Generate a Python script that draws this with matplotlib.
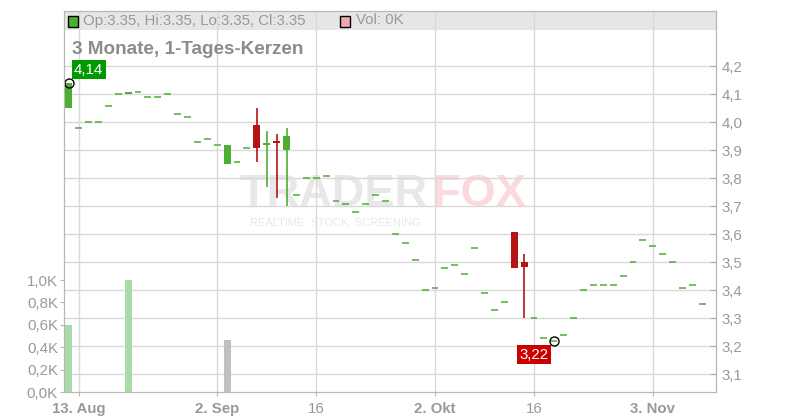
import matplotlib
matplotlib.use("Agg")
import matplotlib.pyplot as plt
from matplotlib.patches import Rectangle

plt.rcParams['font.family'] = ['Liberation Sans', 'DejaVu Sans']

# daily candles, one per trading day (index 0 = 12. Aug)
opens = [4.05, 3.98, 4.00, 4.00, 4.06, 4.10, 4.10, 4.11, 4.09, 4.09,
         4.10, 4.03, 4.02, 3.93, 3.94, 3.92, 3.85, 3.86, 3.91, 3.99,
         3.92, 3.935, 3.90, 3.74, 3.80, 3.80, 3.81, 3.72, 3.71, 3.68,
         3.71, 3.74, 3.72, 3.60, 3.57, 3.51, 3.40, 3.41, 3.48, 3.49,
         3.46, 3.55, 3.39, 3.33, 3.36, 3.61, 3.50, 3.30, 3.23, 3.22,
         3.24, 3.30, 3.40, 3.42, 3.42, 3.42, 3.45, 3.50, 3.58, 3.56,
         3.53, 3.50, 3.41, 3.42, 3.35]
highs = [4.14, 3.98, 4.00, 4.00, 4.06, 4.10, 4.11, 4.11, 4.09, 4.09,
         4.10, 4.03, 4.02, 3.93, 3.94, 3.92, 3.92, 3.86, 3.91, 4.05,
         3.97, 3.96, 3.98, 3.74, 3.80, 3.80, 3.81, 3.72, 3.71, 3.68,
         3.71, 3.74, 3.72, 3.60, 3.57, 3.51, 3.40, 3.41, 3.48, 3.49,
         3.46, 3.55, 3.39, 3.33, 3.36, 3.61, 3.53, 3.30, 3.23, 3.22,
         3.24, 3.30, 3.40, 3.42, 3.42, 3.42, 3.45, 3.50, 3.58, 3.56,
         3.53, 3.50, 3.41, 3.42, 3.35]
lows = [4.05, 3.98, 4.00, 4.00, 4.06, 4.10, 4.10, 4.11, 4.09, 4.09,
        4.10, 4.03, 4.02, 3.93, 3.94, 3.92, 3.85, 3.86, 3.91, 3.86,
        3.77, 3.73, 3.70, 3.74, 3.80, 3.80, 3.81, 3.72, 3.71, 3.68,
        3.71, 3.74, 3.72, 3.60, 3.57, 3.51, 3.40, 3.41, 3.48, 3.49,
        3.46, 3.55, 3.39, 3.33, 3.36, 3.48, 3.30, 3.30, 3.23, 3.22,
        3.24, 3.30, 3.40, 3.42, 3.42, 3.42, 3.45, 3.50, 3.58, 3.56,
        3.53, 3.50, 3.41, 3.42, 3.35]
closes = [4.14, 3.98, 4.00, 4.00, 4.06, 4.10, 4.11, 4.11, 4.09, 4.09,
          4.10, 4.03, 4.02, 3.93, 3.94, 3.92, 3.92, 3.86, 3.91, 3.91,
          3.927, 3.925, 3.95, 3.74, 3.80, 3.80, 3.81, 3.72, 3.71, 3.68,
          3.71, 3.74, 3.72, 3.60, 3.57, 3.51, 3.40, 3.41, 3.48, 3.49,
          3.46, 3.55, 3.39, 3.33, 3.36, 3.48, 3.485, 3.30, 3.23, 3.22,
          3.24, 3.30, 3.40, 3.42, 3.42, 3.42, 3.45, 3.50, 3.58, 3.56,
          3.53, 3.50, 3.41, 3.42, 3.35]

# volume in K, only three days traded
vol_days = [0, 6, 16]
vol_values = [0.60, 1.00, 0.46]
vol_colors = ['#a8dba8', '#a8dba8', '#c0c0c0']

xtick_pos = [1, 15, 25, 37, 47, 59]
xtick_labels = ['13. Aug', '2. Sep', '16', '2. Okt', '16', '3. Nov']
xtick_bold = [True, True, False, True, False, True]

price_ticks = [3.1, 3.2, 3.3, 3.4, 3.5, 3.6, 3.7, 3.8, 3.9, 4.0, 4.1, 4.2]
price_labels = ['3,1', '3,2', '3,3', '3,4', '3,5', '3,6', '3,7', '3,8', '3,9', '4,0', '4,1', '4,2']
vol_ticks = [0.0, 0.2, 0.4, 0.6, 0.8, 1.0]
vol_labels = ['0,0K', '0,2K', '0,4K', '0,6K', '0,8K', '1,0K']

up = '#4caf32'
down = '#b31515'
grid_c = '#d9d9d9'
spine_c = '#b8b8b8'
txt_c = '#999999'

fig = plt.figure(figsize=(8, 4.2), dpi=100)
ax = fig.add_axes([63.5/800, 28/420, 652.5/800, 381/420])
ax.set_xlim(-0.525, 65.38)
ax.set_ylim(3.0368, 4.3975)
ax.set_axisbelow(True)

# legend band at the top of the plot
ax.add_patch(Rectangle((0, 0.9501), 1, 0.0499, transform=ax.transAxes,
                       color='#e6e6e6', zorder=0.2, lw=0))

# watermark
ax.text(0.270, 0.4882, 'TRADER', transform=ax.transAxes, fontsize=32.5,
        fontweight='bold', color='#e8e8e8', zorder=0.1, va='baseline')
ax.text(0.566, 0.4882, 'FOX', transform=ax.transAxes, fontsize=32.5,
        fontweight='bold', color='#fbd9dc', zorder=0.1, va='baseline')
ax.text(0.286, 0.4344, 'REALTIME  STOCK  SCREENING', transform=ax.transAxes,
        fontsize=8.0, color='#e8e8e8', zorder=0.1, va='baseline')

# candles
for i in range(len(opens)):
    o, h, l, c = opens[i], highs[i], lows[i], closes[i]
    col = up if c >= o else down
    if h > max(o, c) or l < min(o, c):
        ax.vlines(i, l, h, color=col, lw=1.2, zorder=3)
    if o == c:
        ax.hlines(c, i - 0.35, i + 0.35, color=col, lw=1.1, zorder=3)
    else:
        ax.bar(i, abs(c - o), bottom=min(o, c), width=0.7, color=col,
               lw=0, zorder=3)

# min / max markers
ax.plot(0, max(highs), 'o', ms=6.5, mfc='none', mec='black', mew=1, zorder=4)
imin = lows.index(min(lows))
ax.plot(imin, min(lows), 'o', ms=6.5, mfc='none', mec='black', mew=1, zorder=4)
ax.annotate('4,14', (0, max(highs)), xytext=(20, 13.5), textcoords='offset pixels',
            ha='center', va='center', color='white', fontsize=10.8, zorder=5,
            bbox=dict(boxstyle='square,pad=0.17', fc='#009900', ec='none'))
ax.annotate('3,22', (imin, min(lows)), xytext=(-20, -14), textcoords='offset pixels',
            ha='center', va='center', color='white', fontsize=10.8, zorder=5,
            bbox=dict(boxstyle='square,pad=0.17', fc='#cc0000', ec='none'))

# volume axis
axv = ax.twinx()
axv.bar(vol_days, vol_values, width=0.7, color=vol_colors, lw=0)
axv.set_ylim(0, 3.402)
axv.set_yticks(vol_ticks)
axv.set_yticklabels(vol_labels)
axv.yaxis.set_ticks_position('left')
axv.yaxis.set_label_position('left')
axv.tick_params(axis='y', colors=spine_c, labelcolor=txt_c, labelsize=10.8,
                direction='out', length=3, pad=1)
for s in axv.spines.values():
    s.set_color(spine_c)

# price axis styling (after twinx, which moves ticks to the left)
ax.set_xticks(xtick_pos)
ax.set_xticklabels(xtick_labels)
for lab, b in zip(ax.get_xticklabels(), xtick_bold):
    if b:
        lab.set_fontweight('bold')
ax.set_yticks(price_ticks)
ax.set_yticklabels(price_labels)
ax.yaxis.set_ticks_position('right')
ax.yaxis.set_label_position('right')
ax.grid(True, color=grid_c, lw=1)
ax.tick_params(axis='x', colors=spine_c, labelcolor=txt_c, labelsize=10.8,
               length=3, pad=4)
ax.tick_params(axis='y', colors='#aaaaaa', labelcolor=txt_c, labelsize=10.8,
               direction='in', length=4, pad=4)
for s in ax.spines.values():
    s.set_color(spine_c)

# header texts
fig.text(72/800, 1 - 54/420, '3 Monate, 1-Tages-Kerzen', fontsize=13.6,
         fontweight='bold', color='#8c8c8c', va='baseline')
fig.add_artist(Rectangle((68/800, 1 - 26.5/420), 10/800, 10/420,
                         transform=fig.transFigure, fc=up, ec='black', lw=1))
fig.text(83/800, 1 - 20.5/420, 'Op:3.35, Hi:3.35, Lo:3.35, Cl:3.35',
         fontsize=10.8, color=txt_c, va='center')
fig.add_artist(Rectangle((340/800, 1 - 26.5/420), 10/800, 10/420,
                         transform=fig.transFigure, fc='#f0a8b0', ec='black', lw=1))
fig.text(356/800, 1 - 20.5/420, 'Vol: 0K', fontsize=10.8, color=txt_c, va='center')

fig.savefig('out.png', dpi=100)
